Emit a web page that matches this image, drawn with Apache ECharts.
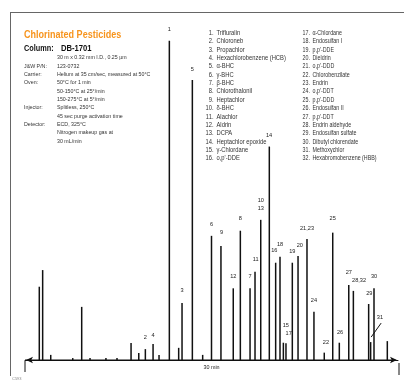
<!DOCTYPE html>
<html><head><meta charset="utf-8">
<script src="https://cdn.jsdelivr.net/npm/echarts@6/dist/echarts.min.js"></script>
<style>html,body{margin:0;padding:0;background:#fff}#c{width:404px;height:381px}</style>
</head><body><div id="c"></div>
<script>
// ---- data ----
const retentionTimes = [1.15, 1.42, 2.07, 3.84, 4.56, 5.23, 6.51, 7.40, 8.53, 9.15, 9.68, 10.30, 10.78, 11.61, 12.36, 12.63, 13.46, 14.29,
  15.00, 15.76, 16.75, 17.32, 18.10, 18.50, 18.96, 19.65, 20.16, 20.51, 20.78, 20.99, 21.50, 21.96, 22.68, 23.24, 24.07, 24.75,
  25.28, 26.04, 26.41, 27.64, 27.80, 28.07, 29.14];
const peakHeights = [22.9, 28.1, 1.6, 0.6, 16.6, 0.6, 0.6, 0.6, 5.3, 2.2, 3.4, 5.0, 1.6, 99.8, 3.8, 17.8, 87.5, 1.6,
  38.8, 35.6, 22.4, 40.4, 22.4, 27.6, 43.8, 66.7, 30.4, 32.3, 5.4, 5.2, 30.4, 32.5, 37.8, 15.1, 2.3, 39.8,
  5.4, 23.4, 21.6, 17.5, 5.6, 22.4, 5.9];
const peakLabels = ['', '', '', '', '', '', '', '', '', '', '2', '4', '', '1', '', '3', '5', '',
  '6', '9', '12', '8', '7', '11', '10\n13', '14', '16', '18', '15', '17', '19', '20', '21,23', '24', '22', '25',
  '26', '27', '28,32', '29', '31', '30', ''];
const runStart = 0, runEnd = 29.8, runLength = 30;
const compounds = ['Trifluralin','Chloroneb','Propachlor','Hexachlorobenzene (HCB)','\u03b1-BHC','\u03b3-BHC','\u03b2-BHC','Chlorothalonil',
  'Heptachlor','\u03b4-BHC','Alachlor','Aldrin','DCPA','Heptachlor epoxide','\u03b3-Chlordane',"o,p'-DDE",
  '\u03b1-Chlordane','Endosulfan I',"p,p'-DDE",'Dieldrin',"o,p'-DDD",'Chlorobenzilate','Endrin',"o,p'-DDT",
  "p,p'-DDD",'Endosulfan II',"p,p'-DDT",'Endrin aldehyde','Endosulfan sulfate','Dibutyl chlorendate','Methoxychlor','Hexabromobenzene (HBB)'];
const titleText = 'Chlorinated Pesticides';
const conditionLabels = [['Column:', 'DB-1701']];
const conditionRows = [
  ['', '30 m x 0.32 mm I.D., 0.25 \u00b5m'],
  ['J&W P/N:', '123-0732'],
  ['Carrier:', 'Helium at 35 cm/sec, measured at 50\u00b0C'],
  ['Oven:', '50\u00b0C for 1 min'],
  ['', '50-150\u00b0C at 25\u00b0/min'],
  ['', '150-275\u00b0C at 5\u00b0/min'],
  ['Injector:', 'Splitless, 250\u00b0C'],
  ['', '45 sec purge activation time'],
  ['Detector:', 'ECD, 325\u00b0C'],
  ['', 'Nitrogen makeup gas at'],
  ['', '30 mL/min']
];
const axisName = '30 min';

// ---- styling (label nudges in px) ----
const labelNudge = {
  '1':[0,-2],'5':[0,-2],'3':[0,-4],'2':[0,-3],'4':[0,0],'6':[0,-2],'9':[0.7,-5],'12':[0,-3],'8':[0,-3],'7':[0,-3],
  '11':[0.7,-3],'10\n13':[0,-2],'14':[-0.3,-2],'16':[-1.4,-3],'18':[0,-3],'15':[2.4,-8],'17':[2.7,-1],'19':[0,-2],
  '20':[1.7,-2],'21,23':[0,-2],'24':[0,-2],'22':[1.7,-1],'25':[0,-5],'26':[0.7,-1],'27':[0,-4],'28,32':[5.7,-1],
  '29':[0.6,-2],'30':[0,-3],'31':[9.3,-16]
};
const FONT = '"Liberation Sans", Arial, Helvetica, sans-serif';
const INK = '#111';

const chart = echarts.init(document.getElementById('c'), null, {renderer: 'canvas'});

const barData = retentionTimes.map((t, i) => {
  const lab = peakLabels[i];
  const item = {value: [t, peakHeights[i]]};
  if (lab) {
    item.label = {show: true, formatter: lab, offset: labelNudge[lab] || [0, 0]};
  }
  return item;
});

chart.setOption({
  animation: false,
  grid: {left: 25, right: 6, top: 40, bottom: 21, containLabel: false},
  xAxis: {
    type: 'value', min: 0, max: runLength, interval: runLength, offset: 7,
    axisLine: {show: true, symbol: ['arrow', 'arrow'], symbolSize: [5, 7], symbolOffset: [1, -1], lineStyle: {color: INK, width: 1}},
    axisTick: {show: false}, axisLabel: {show: false}, splitLine: {show: false}
  },
  yAxis: {type: 'value', min: 0, max: 100, show: false},
  series: [
    {
      type: 'line', data: [[runStart, 0], [runEnd, 0]], showSymbol: false, silent: true,
      lineStyle: {color: INK, width: 1.1}, z: 2
    },
    {
      type: 'bar', data: barData, barWidth: 1.5, itemStyle: {color: INK}, z: 3,
      label: {show: false, position: 'top', distance: 5, fontSize: 5.6, lineHeight: 8, fontFamily: FONT, color: '#222'}
    }
  ]
});

// ---- annotation graphics ----
const g = [];
const txt = (text, x, y, size, sx, opts) => g.push({
  type: 'text', x: x, y: y, scaleX: sx, silent: true,
  style: Object.assign({text: text, fontSize: size, fontFamily: FONT, fill: '#222', verticalAlign: 'middle', align: 'left'}, opts || {})
});
// frame
g.push({type: 'line', silent: true, shape: {x1: 10, y1: 12.5, x2: 404, y2: 12.5}, style: {stroke: '#666', lineWidth: 1}});
g.push({type: 'line', silent: true, shape: {x1: 10.5, y1: 12, x2: 10.5, y2: 376}, style: {stroke: '#666', lineWidth: 1}});
txt('C593', 12, 379, 4, 1, {fill: '#888'});
// title block
txt(titleText, 24, 35, 11, 0.82, {fontWeight: 'bold', fill: '#f7941d'});
txt(conditionLabels[0][0], 24, 48.5, 8.5, 0.86, {fontWeight: 'bold', fill: '#111'});
txt(conditionLabels[0][1], 61, 48.5, 8.5, 0.9, {fontWeight: 'bold', fill: '#111'});
conditionRows.forEach((r, i) => {
  const y = 57.5 + i * 8.35;
  if (r[0]) txt(r[0], 24, y, 6, 0.88, {fill: '#333'});
  txt(r[1], 57, y, 6, 0.88, {fill: '#333'});
});
// compound list
compounds.forEach((c, i) => {
  const col = i < 16 ? 0 : 1;
  const row = i % 16;
  const y = 33 + row * 8.37;
  const numRight = col === 0 ? 213.5 : 310;
  const textX = col === 0 ? 216.5 : 312.5;
  const sx = col === 0 ? 0.88 : 0.81;
  txt((i + 1) + '.', numRight, y, 6.6, sx, {align: 'right', fill: '#333'});
  txt(c, textX, y, 6.6, sx, {fill: '#333'});
});
// axis end bars and name
const p0 = chart.convertToPixel({gridIndex: 0}, [0, 0]);
const p1 = chart.convertToPixel({gridIndex: 0}, [runLength, 0]);
const pm = chart.convertToPixel({gridIndex: 0}, [runLength / 2, 0]);
const axisY = p0[1] + 7;
g.push({type: 'line', silent: true, shape: {x1: p0[0], y1: axisY - 6, x2: p0[0], y2: axisY + 5}, style: {stroke: INK, lineWidth: 1}});
g.push({type: 'line', silent: true, shape: {x1: p1[0] + 1, y1: axisY - 4, x2: p1[0] + 1, y2: axisY + 8}, style: {stroke: INK, lineWidth: 1}});
g.push({type: 'rect', silent: true, shape: {x: pm[0] - 9, y: axisY - 3, width: 18, height: 6}, style: {fill: '#fff'}});
txt(axisName, pm[0], axisY, 6, 0.9, {align: 'center', fill: '#222'});
// leader line for peak 31
const i31 = peakLabels.indexOf('31');
const pk = chart.convertToPixel({gridIndex: 0}, [retentionTimes[i31], peakHeights[i31]]);
g.push({type: 'line', silent: true, shape: {x1: pk[0] + 10.5, y1: pk[1] - 19, x2: pk[0] + 0.5, y2: pk[1] - 5}, style: {stroke: INK, lineWidth: 1}});

chart.setOption({graphic: g});
</script>
</body></html>
